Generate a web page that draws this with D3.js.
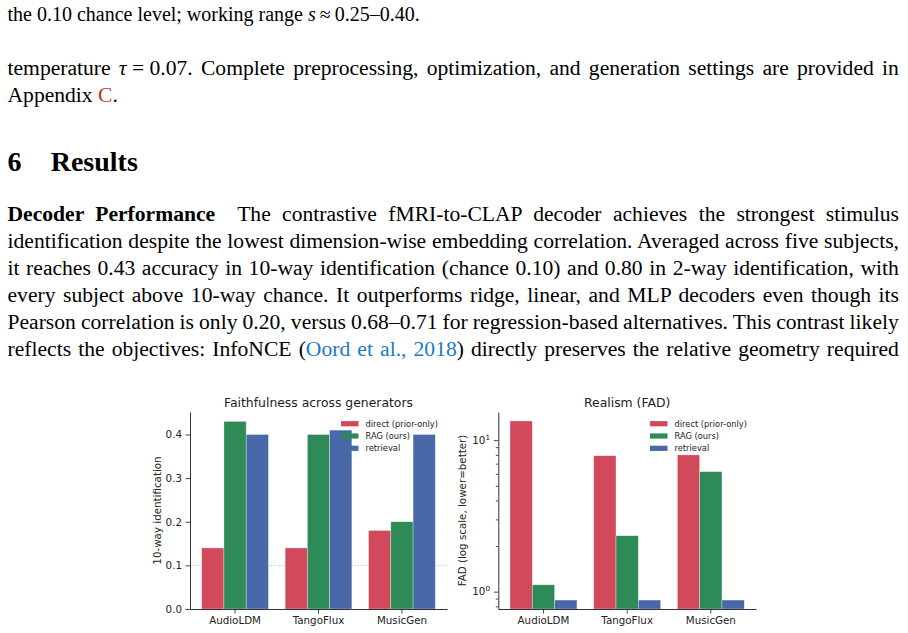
<!DOCTYPE html>
<html><head><meta charset="utf-8">
<script src="https://cdn.jsdelivr.net/npm/d3@7"></script>
<style>
body{margin:0;background:#fff;width:908px;height:633px;overflow:hidden}
svg{display:block}
</style></head><body>
<svg id="page" width="908" height="633"></svg>
<script>
// ---------- data ----------
const generators = ["AudioLDM", "TangoFlux", "MusicGen"];
const methods = ["direct (prior-only)", "RAG (ours)", "retrieval"];
const methodColors = ["#d1495b", "#2e8b57", "#4868a8"];
const faithDirect = [0.14, 0.14, 0.18];
const faithRAG = [0.43, 0.40, 0.20];
const faithRetrieval = [0.40, 0.41, 0.40];
const fadDirect = [13.4, 7.9, 8.0];
const fadRAG = [1.11, 2.34, 6.2];
const fadRetrieval = [0.88, 0.88, 0.88];
const faithTicks = [0, 0.1, 0.2, 0.3, 0.4];
const fadMajorTicks = [1, 10];
const fadMinorTicks = [0.8, 0.9, 2, 3, 4, 5, 6, 7, 8, 9];
const chanceLevel = 0.10;

const svg = d3.select("#page");

// ---------- page text ----------
const serif = "'Liberation Serif','Times New Roman',serif";
const textLines = [
  {y: 20.7, fs: 20, justify: false, runs: [
    {t: "the 0.10 chance level; working range "}, {t: "s", i: true}, {t: "\u2009\u2248\u20090.25\u20130.40."}]},
  {y: 75, fs: 21.6, justify: true, runs: [
    {t: "temperature "}, {t: "\u03c4", i: true}, {t: "\u2005=\u20050.07. Complete preprocessing, optimization, and generation settings are provided in"}]},
  {y: 101.7, fs: 21.6, justify: false, runs: [
    {t: "Appendix "}, {t: "C", c: "#c0392b"}, {t: "."}]},
  {y: 221, fs: 21.6, justify: true, runs: [
    {t: "Decoder Performance", b: true}, {t: " The contrastive fMRI-to-CLAP decoder achieves the strongest stimulus", dx: 11}]},
  {y: 248, fs: 21.6, justify: true, runs: [
    {t: "identification despite the lowest dimension-wise embedding correlation. Averaged across five subjects,"}]},
  {y: 275, fs: 21.6, justify: true, runs: [
    {t: "it reaches 0.43 accuracy in 10-way identification (chance 0.10) and 0.80 in 2-way identification, with"}]},
  {y: 302, fs: 21.6, justify: true, runs: [
    {t: "every subject above 10-way chance. It outperforms ridge, linear, and MLP decoders even though its"}]},
  {y: 329, fs: 21.6, justify: true, runs: [
    {t: "Pearson correlation is only 0.20, versus 0.68\u20130.71 for regression-based alternatives. This contrast likely"}]},
  {y: 356, fs: 21.6, justify: true, runs: [
    {t: "reflects the objectives: InfoNCE ("}, {t: "Oord et al., 2018", c: "#1a7bc4"}, {t: ") directly preserves the relative geometry required"}]}
];
const textLeft = 7.5, textWidth = 891.5;
const tg = svg.append("g").attr("font-family", serif).attr("fill", "#000");
textLines.forEach(L => {
  const t = tg.append("text").attr("x", textLeft).attr("y", L.y).attr("font-size", L.fs);
  L.runs.forEach(r => {
    const s = t.append("tspan").text(r.t);
    if (r.b) s.attr("font-weight", "bold");
    if (r.i) s.attr("font-style", "italic");
    if (r.c) s.attr("fill", r.c);
    if (r.dx) s.attr("dx", r.dx);
  });
  if (L.justify) {
    const w = t.node().getBBox().width;
    const n = (t.text().match(/ /g) || []).length;
    t.style("word-spacing", ((textWidth - w) / n) + "px");
  }
});
// section heading
const h = tg.append("g").attr("font-weight", "bold").attr("font-size", 28);
h.append("text").attr("x", textLeft).attr("y", 170.7).text("6");
h.append("text").attr("x", 50.7).attr("y", 170.7).text("Results");

// ---------- charts ----------
const sans = "'DejaVu Sans', sans-serif";
const tickFs = 10.3, labelFs = 10.3, titleFs = 12.4, legendFs = 8.3;
const axTop = 412, axBottom = 609;

function drawBars(opts) {
  const g = svg.append("g").attr("font-family", sans);
  const x = d3.scaleBand().domain(generators).range([opts.x0, opts.x1])
    .paddingInner(0.2).paddingOuter(0.14);
  const xm = d3.scaleBand().domain(methods).range([0, x.bandwidth()]).padding(0);
  const y = opts.y;
  const base = y.range()[0];

  // reference line (below bars)
  if (opts.refLine != null) {
    g.append("line").attr("x1", opts.x0).attr("x2", opts.x1)
      .attr("y1", y(opts.refLine)).attr("y2", y(opts.refLine))
      .attr("stroke", "#9a9a9a").attr("stroke-width", 0.8).attr("stroke-dasharray", "1,1.7");
  }

  // bars
  opts.series.forEach((vals, mi) => {
    g.append("g").selectAll("rect").data(vals).join("rect")
      .attr("x", (d, i) => x(generators[i]) + xm(methods[mi]))
      .attr("width", xm.bandwidth())
      .attr("y", d => y(d))
      .attr("height", d => base - y(d))
      .attr("fill", methodColors[mi])
      .attr("stroke", "#ffffff").attr("stroke-opacity", 0.55).attr("stroke-width", 0.6);
  });

  // x axis
  const xa = g.append("g").attr("transform", `translate(0,${axBottom})`)
    .call(d3.axisBottom(x).tickSize(4.5).tickPadding(3.5).tickSizeOuter(0));
  xa.selectAll("text").attr("font-size", tickFs).attr("font-family", sans).attr("fill", "#222");
  xa.select(".domain").attr("stroke", "#333").attr("stroke-width", 1);
  xa.selectAll(".tick line").attr("stroke", "#333").attr("stroke-width", 0.9);

  // y axis
  const ya = g.append("g").attr("transform", `translate(${opts.x0},0)`);
  opts.yAxis(ya);
  ya.select(".domain").attr("stroke", "#333").attr("stroke-width", 1);
  ya.selectAll(".tick line").attr("stroke", "#333").attr("stroke-width", 0.9);
  ya.selectAll("text").attr("font-family", sans).attr("fill", "#222");

  // title
  g.append("text").attr("x", (opts.x0 + opts.x1) / 2).attr("y", 406.5)
    .attr("text-anchor", "middle").attr("font-size", titleFs).attr("fill", "#222").text(opts.title);
  // y label
  g.append("text").attr("transform", `translate(${opts.ylabelX},${(axTop + axBottom) / 2}) rotate(-90)`)
    .attr("text-anchor", "middle").attr("font-size", labelFs).attr("fill", "#222").text(opts.ylabel);

  // legend (no frame)
  const lg = g.append("g").attr("font-size", legendFs);
  methods.forEach((m, i) => {
    const cy = 423.7 + i * 12.3;
    lg.append("rect").attr("x", opts.x1 - 106).attr("y", cy - 2.6).attr("width", 17.5).attr("height", 5.2)
      .attr("fill", methodColors[i]);
    lg.append("text").attr("x", opts.x1 - 81.5).attr("y", cy + 3).attr("fill", "#222").text(m);
  });
}

// left chart: faithfulness
const allFaith = faithDirect.concat(faithRAG, faithRetrieval);
const yFaith = d3.scaleLinear().domain([0, d3.max(allFaith) * 1.05]).range([axBottom, axTop]);
drawBars({
  x0: 190, x1: 447, y: yFaith,
  series: [faithDirect, faithRAG, faithRetrieval],
  refLine: chanceLevel,
  title: "Faithfulness across generators",
  ylabel: "10-way identification", ylabelX: 160.5,
  yAxis: a => {
    a.call(d3.axisLeft(yFaith).tickValues(faithTicks).tickFormat(d3.format(".1f"))
      .tickSize(4.5).tickPadding(3.5).tickSizeOuter(0));
    a.selectAll("text").attr("font-size", tickFs);
  }
});

// right chart: realism (log)
const allFad = fadDirect.concat(fadRAG, fadRetrieval);
const lmin = Math.log10(d3.min(allFad)), lmax = Math.log10(d3.max(allFad));
const lspan = lmax - lmin;
const yFad = d3.scaleLog().domain([Math.pow(10, lmin - 0.05 * lspan), Math.pow(10, lmax + 0.05 * lspan)])
  .range([axBottom, axTop]);
drawBars({
  x0: 498.3, x1: 756, y: yFad,
  series: [fadDirect, fadRAG, fadRetrieval],
  refLine: null,
  title: "Realism (FAD)",
  ylabel: "FAD (log scale, lower=better)", ylabelX: 466.3,
  yAxis: a => {
    a.call(d3.axisLeft(yFad).tickValues(fadMajorTicks).tickFormat(() => "")
      .tickSize(4.5).tickPadding(3.5).tickSizeOuter(0));
    a.selectAll(".tick text").each(function(d) {
      const t = d3.select(this).attr("font-size", tickFs).attr("x", -8.3);
      t.append("tspan").text("10");
      t.append("tspan").attr("font-size", tickFs * 0.7).attr("dy", "-0.55em")
        .text(Math.round(Math.log10(d)));
    });
    const mg = a.append("g");
    mg.call(d3.axisLeft(yFad).tickValues(fadMinorTicks).tickFormat(() => "").tickSize(2.5).tickSizeOuter(0));
    mg.select(".domain").remove();
    mg.selectAll(".tick line").attr("stroke", "#333").attr("stroke-width", 0.7);
  }
});
</script>
</body></html>
